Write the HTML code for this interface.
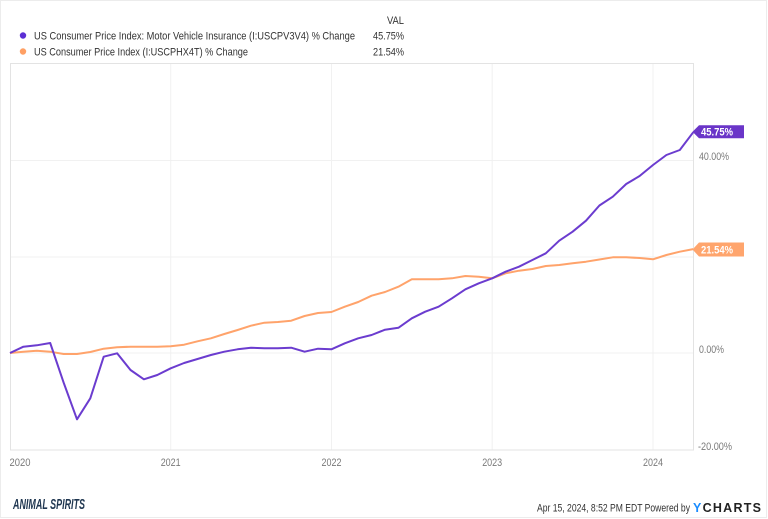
<!DOCTYPE html>
<html><head><meta charset="utf-8">
<style>
html,body{margin:0;padding:0;background:#fff;}
svg{display:block;}
text{font-family:"Liberation Sans",sans-serif;}
</style></head>
<body>
<svg width="768" height="519" viewBox="0 0 768 519" xmlns="http://www.w3.org/2000/svg">
<rect x="0.5" y="0.5" width="766" height="517" fill="#fff" stroke="#ececec" stroke-width="1"/>
<!-- legend -->
<text x="404" y="24" font-size="11" fill="#333" text-anchor="end" textLength="17" lengthAdjust="spacingAndGlyphs">VAL</text>
<circle cx="23" cy="35.5" r="3.2" fill="#5c2fd4"/>
<circle cx="23" cy="51.5" r="3.2" fill="#ffa064"/>
<text x="34" y="39.5" font-size="11" fill="#333" textLength="321" lengthAdjust="spacingAndGlyphs">US Consumer Price Index: Motor Vehicle Insurance (I:USCPV3V4) % Change</text>
<text x="34" y="55.5" font-size="11" fill="#333" textLength="214" lengthAdjust="spacingAndGlyphs">US Consumer Price Index (I:USCPHX4T) % Change</text>
<text x="404" y="39.5" font-size="11" fill="#333" text-anchor="end" textLength="31" lengthAdjust="spacingAndGlyphs">45.75%</text>
<text x="404" y="55.5" font-size="11" fill="#333" text-anchor="end" textLength="31" lengthAdjust="spacingAndGlyphs">21.54%</text>
<!-- grid -->
<g stroke="#f1f1f1" stroke-width="1">
<line x1="10" y1="160.5" x2="693" y2="160.5"/>
<line x1="10" y1="257" x2="693" y2="257"/>
<line x1="10" y1="353" x2="693" y2="353"/>
<line x1="170.7" y1="63" x2="170.7" y2="450"/>
<line x1="331.5" y1="63" x2="331.5" y2="450"/>
<line x1="492.2" y1="63" x2="492.2" y2="450"/>
<line x1="653" y1="63" x2="653" y2="450"/>
</g>
<rect x="10.5" y="63.5" width="683" height="386.5" fill="none" stroke="#e3e3e3" stroke-width="1"/>
<!-- series -->
<polyline fill="none" stroke="#ffa36b" stroke-width="2" stroke-linejoin="round" points="10,353 23.4,351.7 36.8,350.7 50.2,351.7 63.6,354 77,354 90.3,352 103.7,348.7 117.1,347.3 130.5,346.7 143.9,346.7 157.3,346.7 170.7,346.3 184.1,344.7 197.5,341.3 210.9,338.3 224.3,334 237.6,330 251,325.7 264.4,322.7 277.8,322 291.2,320.7 304.6,316 318,313 331.4,312 344.8,306.7 358.2,302 371.6,295.7 385,292 398.4,286.7 411.8,279.3 425.2,279.3 438.6,279.3 452,278.3 465.4,276 478.8,276.7 492.2,278.3 505.6,273.3 519,270.7 532.4,269 545.8,266 559.2,265 572.6,263.3 586,261.7 599.4,259.5 612.8,257.3 626.2,257.3 639.6,258 653,259.3 666.4,255 679.8,251.7 693.2,249.1"/>
<polyline fill="none" stroke="#6b3ccf" stroke-width="2" stroke-linejoin="round" points="10,353 23.4,346.7 36.8,345.3 50.2,343 63.6,382.5 77,419.3 90.3,398.3 103.7,356.7 117.1,353.3 130.5,370 143.9,379.3 157.3,375 170.7,368.3 184.1,363 197.5,359 210.9,355 224.3,351.7 237.6,349.3 251,347.7 264.4,348.3 277.8,348.3 291.2,347.7 304.6,351.7 318,348.7 331.4,349.3 344.8,343.3 358.2,338.3 371.6,335 385,329.7 398.4,327.8 411.8,318.3 425.2,311.7 438.6,306.7 452,298.3 465.4,289.3 478.8,283.3 492.2,278.3 505.6,271.7 519,266.7 532.4,260 545.8,253.3 559.2,240.7 572.6,231.7 586,220.7 599.4,205.5 612.8,196.7 626.2,184 639.6,176 653,165 666.4,155 679.8,150 693.2,132.3"/>
<!-- y labels -->
<g font-size="11" fill="#7a7a7a">
<text x="699" y="160" textLength="30" lengthAdjust="spacingAndGlyphs">40.00%</text>
<text x="699" y="353" textLength="25" lengthAdjust="spacingAndGlyphs">0.00%</text>
<text x="698" y="450" textLength="34" lengthAdjust="spacingAndGlyphs">-20.00%</text>
</g>
<!-- tags -->
<polygon points="692.5,131.8 699,125.3 744,125.3 744,138.3 699,138.3" fill="#6a35c8"/>
<text x="701" y="135.7" font-size="11" font-weight="bold" fill="#fff" textLength="32" lengthAdjust="spacingAndGlyphs">45.75%</text>
<polygon points="692.5,249.5 699,242.5 744,242.5 744,256.5 699,256.5" fill="#ffa56d"/>
<text x="701" y="253.5" font-size="11" font-weight="bold" fill="#fff" textLength="32" lengthAdjust="spacingAndGlyphs">21.54%</text>
<!-- x labels -->
<g font-size="11" fill="#7a7a7a">
<text x="9.5" y="466" textLength="21" lengthAdjust="spacingAndGlyphs">2020</text>
<text x="170.7" y="466" text-anchor="middle" textLength="20" lengthAdjust="spacingAndGlyphs">2021</text>
<text x="331.5" y="466" text-anchor="middle" textLength="20" lengthAdjust="spacingAndGlyphs">2022</text>
<text x="492.2" y="466" text-anchor="middle" textLength="20" lengthAdjust="spacingAndGlyphs">2023</text>
<text x="653" y="466" text-anchor="middle" textLength="20" lengthAdjust="spacingAndGlyphs">2024</text>
</g>
<!-- footer -->
<text x="13" y="509" font-size="15" font-weight="bold" font-style="italic" fill="#1f3650" textLength="72" lengthAdjust="spacingAndGlyphs">ANIMAL SPIRITS</text>
<text x="537" y="511.5" font-size="11" fill="#333" textLength="153" lengthAdjust="spacingAndGlyphs">Apr 15, 2024, 8:52 PM EDT Powered by</text>
<text x="693" y="512" font-size="12.5" font-weight="bold" fill="#222" textLength="68" lengthAdjust="spacing"><tspan fill="#1a8cff">Y</tspan>CHARTS</text>
</svg>
</body></html>
